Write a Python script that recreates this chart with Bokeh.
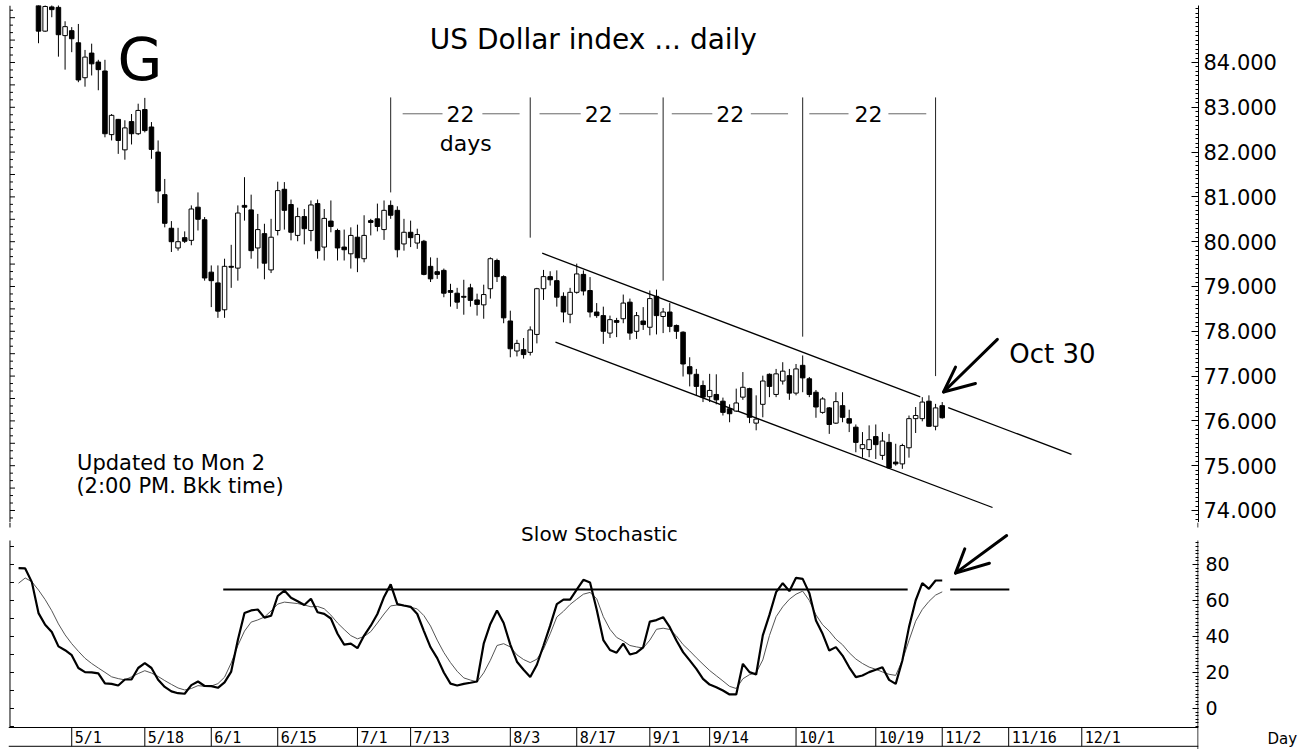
from bokeh.plotting import figure
from bokeh.models import Range1d, LinearAxis, FixedTicker, Label, ColumnDataSource, Span
from bokeh.layouts import column, row
from bokeh.core.properties import value
from bokeh.embed import file_html
from bokeh.resources import INLINE

FONT = "DejaVu Sans"
MONO = "DejaVu Sans Mono"

# ---------------- data (US Dollar index, daily, candle index 0 = 4/24) ----------------
opens = [85.30, 84.70, 85.24, 85.23, 84.60, 84.71, 84.44, 83.66, 84.21, 84.01,
         83.81, 82.39, 82.73, 82.05, 82.68, 82.41, 82.95, 82.56, 82.00, 81.05,
         80.30, 79.86, 80.09, 80.03, 80.77, 80.49, 79.32, 79.08, 78.48, 79.45,
         79.41, 80.81, 80.71, 79.86, 80.18, 79.37, 80.25, 81.17, 80.83, 80.14,
         80.56, 80.25, 80.85, 79.88, 80.46, 80.25, 79.88, 79.73, 80.10, 79.62,
         80.47, 80.51, 80.27, 80.81, 80.70, 79.95, 80.21, 79.97, 80.01, 79.45,
         79.33, 79.36, 78.91, 78.85, 78.78, 78.97, 78.70, 78.59, 78.95, 79.58,
         79.22, 78.23, 77.56, 77.59, 77.53, 77.93, 78.95, 79.22, 79.13, 78.78,
         78.38, 78.87, 79.27, 78.91, 78.43, 78.35, 77.96, 78.24, 78.28, 78.65,
         78.00, 78.23, 78.09, 78.78, 78.33, 78.43, 78.13, 77.98, 77.21, 77.04,
         76.79, 76.54, 76.59, 76.44, 76.27, 76.22, 76.53, 76.72, 75.95, 76.37,
         77.04, 76.59, 76.89, 77.01, 76.62, 77.24, 76.94, 76.64, 76.19, 76.29,
         75.95, 76.34, 76.05, 75.86, 75.38, 75.36, 75.65, 75.23, 75.52, 75.08,
         75.04, 75.40, 76.05, 76.05, 76.44, 75.88, 76.34]
highs = [85.45, 85.45, 85.30, 85.30, 84.92, 84.79, 84.86, 84.28, 84.42, 84.06,
         84.06, 82.85, 82.74, 82.71, 82.85, 83.08, 83.21, 82.67, 82.26, 81.40,
         80.46, 80.31, 80.23, 80.81, 81.10, 80.55, 79.47, 79.47, 79.62, 79.93,
         80.81, 81.44, 81.05, 80.62, 80.40, 80.51, 81.34, 81.33, 80.94, 80.76,
         80.73, 80.92, 80.94, 80.73, 80.92, 80.29, 80.27, 80.32, 80.38, 80.59,
         80.51, 80.85, 80.92, 80.92, 80.79, 80.51, 80.47, 80.29, 80.04, 79.65,
         79.64, 79.40, 79.06, 78.97, 79.15, 79.06, 78.84, 79.04, 79.65, 79.62,
         79.25, 78.46, 77.81, 77.85, 78.11, 78.97, 79.37, 79.34, 79.36, 78.87,
         78.97, 79.51, 79.36, 79.21, 78.63, 78.55, 78.35, 78.30, 78.82, 78.73,
         78.43, 78.54, 78.91, 78.93, 78.52, 78.63, 78.15, 78.00, 77.42, 77.16,
         76.90, 77.05, 77.04, 76.52, 76.37, 76.72, 77.09, 76.74, 76.57, 77.01,
         77.06, 77.16, 77.31, 77.16, 77.27, 77.46, 76.98, 76.69, 76.53, 76.31,
         76.64, 76.64, 76.25, 75.92, 75.75, 75.90, 75.92, 75.75, 75.71, 75.49,
         75.49, 76.12, 76.31, 76.53, 76.57, 76.38, 76.42]
lows = [84.43, 84.68, 85.01, 84.13, 83.84, 84.23, 83.56, 83.46, 83.71, 83.38,
        82.33, 82.26, 81.96, 81.83, 82.17, 82.38, 82.44, 81.85, 80.86, 80.32,
        79.77, 79.80, 79.97, 79.92, 80.25, 79.13, 78.54, 78.30, 78.30, 78.97,
        79.13, 80.47, 79.62, 79.40, 79.16, 79.30, 80.14, 80.27, 80.03, 80.01,
        79.94, 80.01, 79.62, 79.58, 80.21, 79.58, 79.58, 79.40, 79.32, 79.54,
        80.14, 80.23, 80.04, 80.51, 79.65, 79.80, 79.88, 79.84, 79.25, 79.10,
        79.17, 78.76, 78.55, 78.50, 78.37, 78.55, 78.35, 78.28, 78.73, 79.10,
        78.18, 77.42, 77.44, 77.39, 77.46, 77.73, 78.70, 79.02, 78.55, 78.20,
        78.18, 78.84, 78.80, 78.31, 78.30, 77.72, 77.85, 77.87, 78.18, 77.81,
        77.83, 78.03, 77.91, 77.93, 77.96, 77.98, 77.83, 76.99, 76.77, 76.57,
        76.42, 76.42, 76.37, 76.12, 75.97, 76.20, 76.47, 75.95, 75.79, 76.08,
        76.53, 76.53, 76.81, 76.47, 76.57, 76.64, 76.53, 76.07, 76.16, 75.71,
        75.93, 75.97, 75.75, 75.30, 75.18, 75.19, 75.15, 75.13, 74.93, 75.00,
        74.93, 75.18, 75.73, 75.99, 75.87, 75.79, 76.05]
closes = [84.70, 85.25, 85.18, 84.62, 84.80, 84.53, 83.61, 84.12, 83.97, 83.84,
          82.41, 82.82, 82.26, 82.54, 82.41, 82.93, 82.48, 82.06, 81.13, 80.41,
          80.00, 80.00, 80.01, 80.73, 80.50, 79.19, 79.13, 78.45, 79.45, 79.43,
          80.64, 80.77, 79.80, 80.27, 79.52, 80.10, 81.14, 80.70, 80.21, 80.56,
          80.29, 80.82, 79.80, 80.52, 80.34, 79.86, 79.82, 80.14, 79.64, 80.14,
          80.43, 80.34, 80.70, 80.59, 79.82, 80.21, 80.09, 80.16, 79.27, 79.17,
          79.27, 78.85, 78.87, 78.65, 78.76, 78.69, 78.60, 78.82, 79.62, 79.22,
          78.30, 77.61, 77.73, 77.48, 78.03, 78.95, 79.22, 79.15, 78.76, 78.43,
          78.87, 79.28, 78.90, 78.43, 78.35, 78.00, 78.26, 78.20, 78.63, 77.96,
          78.35, 78.15, 78.73, 78.35, 78.43, 78.11, 78.00, 77.27, 77.05, 76.77,
          76.53, 76.68, 76.47, 76.19, 76.16, 76.40, 76.75, 76.08, 76.04, 76.89,
          76.77, 77.05, 77.11, 76.62, 77.16, 76.96, 76.59, 76.31, 76.49, 75.92,
          76.43, 76.08, 75.95, 75.52, 75.47, 75.58, 75.47, 75.55, 74.95, 75.04,
          75.45, 76.05, 76.12, 76.42, 75.88, 76.29, 76.07]

# slow stochastic, first value at candle index -3
stoch_first = -3
stoch_k = [78.0, 77.8, 70.2, 53.0, 46.5, 42.5, 34.5, 32.4, 29.6, 22.5,
           20.2, 20.1, 19.5, 14.0, 13.7, 12.8, 16.1, 16.1, 22.5, 25.2,
           22.5, 16.0, 12.0, 9.5, 8.5, 8.2, 13.0, 15.0, 12.5, 12.4,
           11.5, 14.5, 20.5, 38.0, 53.0, 54.5, 55.0, 50.5, 51.5, 62.5,
           65.5, 61.5, 59.6, 57.5, 61.0, 53.5, 52.6, 50.0, 41.5, 35.5,
           36.0, 33.5, 40.5, 46.0, 52.5, 62.0, 69.0, 58.0, 57.2, 56.5,
           52.5, 43.0, 34.0, 28.0, 20.0, 13.8, 12.8, 13.7, 14.3, 15.0,
           36.0, 47.0, 54.5, 47.5, 35.5, 26.0, 21.5, 17.5, 24.3, 35.0,
           46.0, 58.0, 60.5, 60.5, 66.0, 71.5, 70.0, 55.0, 38.0, 32.5,
           31.0, 36.0, 30.0, 31.0, 34.0, 48.3, 49.1, 50.7, 45.2, 37.8,
           31.3, 26.7, 22.0, 16.5, 13.3, 11.8, 10.0, 7.8, 7.8, 24.8,
           20.2, 18.9, 40.6, 52.0, 64.6, 69.6, 65.2, 72.6, 72.0, 64.1,
           48.9, 41.5, 32.2, 34.1, 29.4, 22.9, 17.4, 18.3, 20.2, 21.5,
           22.9, 15.9, 13.7, 26.7, 45.2, 60.0, 69.6, 66.5, 71.1, 71.1]
stoch_d = [69.6, 72.5, 70.4, 65.8, 60.5, 54.3, 47.0, 40.9, 36.0, 31.8,
           27.9, 25.0, 22.5, 20.1, 17.6, 16.6, 15.9, 17.6, 19.4, 21.0,
           19.7, 17.8, 15.5, 13.4, 11.4, 10.3, 11.1, 12.7, 12.3, 12.5,
           13.8, 17.4, 25.3, 35.0, 43.0, 48.0, 49.2, 50.8, 54.2, 58.0,
           59.1, 58.7, 58.3, 57.5, 56.5, 56.7, 55.4, 51.9, 47.5, 43.9,
           40.5, 38.7, 40.0, 42.7, 47.5, 52.5, 57.0, 57.5, 57.0, 56.3,
           55.3, 51.6, 45.8, 38.0, 31.1, 25.5, 20.7, 17.0, 15.8, 14.8,
           19.8, 26.8, 35.0, 36.0, 34.2, 29.8, 27.2, 25.5, 27.4, 33.0,
           41.5, 50.8, 54.0, 57.8, 60.7, 63.5, 64.5, 61.0, 51.0, 44.0,
           39.5, 37.5, 35.0, 34.2, 33.6, 38.0, 44.0, 44.6, 43.9, 40.3,
           35.5, 32.0, 28.2, 24.6, 21.1, 18.2, 15.3, 12.3, 11.1, 16.5,
           18.8, 19.9, 27.0, 40.5, 51.0, 56.5, 60.7, 63.5, 65.2, 60.0,
           52.0, 46.5, 43.0, 38.5, 35.4, 31.0, 27.5, 25.0, 23.0, 21.8,
           20.3, 19.0, 18.4, 26.7, 37.8, 48.5, 55.0, 59.5, 63.0, 64.8]

date_labels = ["5/1", "5/18", "6/1", "6/15", "7/1", "7/13", "8/3", "8/17",
               "9/1", "9/14", "10/1", "10/19", "11/2", "11/16", "12/1"]
date_index = [5, 16, 26, 36, 48, 56, 71, 81, 92, 101, 114, 126, 136, 146, 157]

price_ticks = [74, 75, 76, 77, 78, 79, 80, 81, 82, 83, 84]
price_tick_labels = ["74.000", "75.000", "76.000", "77.000", "78.000", "79.000",
                     "80.000", "81.000", "82.000", "83.000", "84.000"]
stoch_ticks = [0, 20, 40, 60, 80]
stoch_tick_labels = ["0", "20", "40", "60", "80"]

# annotations drawn on the chart (day index, price)
cycle_index = [53, 74, 94, 115, 135]
cycle_top = 83.22
cycle_bottom = [81.10, 80.09, 79.13, 77.88, 77.00]
count_label_index = [63.5, 84.3, 104.1, 124.9]
count_label_text = ["22", "22", "22", "22"]
count_dash_x0 = [54.8, 66.8, 75.4, 87.4, 95.3, 107.2, 116.0, 127.9]
count_dash_x1 = [60.8, 72.4, 81.6, 93.2, 101.4, 112.8, 121.9, 133.6]
count_level = 82.855
channel_x0 = [75.80, 136.9, 77.80]
channel_y0 = [79.743, 76.298, 77.757]
channel_x1 = [132.7, 155.45, 143.57]
channel_y1 = [76.535, 75.252, 74.067]
stoch_level = 66.1
stoch_level_x0 = [27.8, 137.2]
stoch_level_x1 = [130.8, 146.1]

# ---------------- ranges / layout ----------------
PX_PER_DAY = 6.645
FRAME_W = 1190
X0 = -4.515
X1 = X0 + FRAME_W / PX_PER_DAY
P0, P1 = 73.732, 85.272          # main frame: page y 5 .. 522
S0, S1 = -22.78, 103.33          # lower frame: page y 522 .. 749
S_MAIN_END = 100.56              # page y 527: end of the upper panel's rules
S_AXIS_TOP = 93.33               # page y 540: start of the lower panel's rules
XL = -4.29                       # left edge rule
XR = X1 - 0.5 / PX_PER_DAY       # right rule inside the lower frame
BAND_TOP, BAND_BOT, BAND_TXT = -10.56, -21.0, -16.2


def base(fig):
    fig.grid.grid_line_color = None
    fig.outline_line_color = None
    fig.background_fill_color = "white"
    fig.border_fill_color = "white"
    return fig


common = dict(output_backend="svg", toolbar_location=None, tools="",
              x_axis_location=None, y_axis_location=None, min_border_left=8)

# ---------------- main price panel ----------------
p1 = base(figure(width=1316, height=522, x_range=Range1d(X0, X1), y_range=Range1d(P0, P1),
                 min_border_top=5, min_border_bottom=0, min_border_right=1316 - 8 - FRAME_W,
                 **common))

ax1 = LinearAxis(ticker=FixedTicker(ticks=price_ticks,
                                    minor_ticks=[round(73.8 + 0.1 * k, 2) for k in range(116)]),
                 major_label_overrides=dict(zip(price_ticks, price_tick_labels)))
ax1.axis_line_color = "black"
ax1.major_tick_in, ax1.major_tick_out = 7, 0
ax1.minor_tick_in, ax1.minor_tick_out = 3, 0
ax1.major_tick_line_color = "black"
ax1.minor_tick_line_color = "black"
ax1.major_label_standoff = 5
ax1.major_label_text_font = FONT
ax1.major_label_text_font_size = "21px"
ax1.major_label_text_color = "black"
p1.add_layout(ax1, "right")

# left edge rule with ticks
long_t = [74 + 0.5 * k for k in range(23)]
short_t = [73.5 + k / 6 for k in range(71) if k % 3 != 0]
p1.segment(x0=[XL], y0=[P0], x1=[XL], y1=[P1], line_color="black", line_width=1)
p1.segment(x0=[XL] * len(long_t), y0=long_t, x1=[XL + 0.75] * len(long_t), y1=long_t,
           line_color="black", line_width=1)
p1.segment(x0=[XL] * len(short_t), y0=short_t, x1=[XL + 0.45] * len(short_t), y1=short_t,
           line_color="black", line_width=1)

# channel lines
p1.segment(x0=channel_x0, y0=channel_y0, x1=channel_x1, y1=channel_y1,
           line_color="black", line_width=1.3)

# cycle markers
p1.segment(x0=cycle_index, y0=[cycle_top] * len(cycle_index), x1=cycle_index, y1=cycle_bottom,
           line_color="#222222", line_width=1)
p1.segment(x0=count_dash_x0, y0=[count_level] * 8, x1=count_dash_x1, y1=[count_level] * 8,
           line_color="#666666", line_width=1)
p1.text(x=count_label_index, y=[count_level] * 4, text=count_label_text,
        text_font=value(FONT), text_font_size="22px", text_align="center",
        text_baseline="middle", text_color="black")
p1.text(x=[64.3], y=[82.2], text=["days"], text_font=value(FONT), text_font_size="22px",
        text_align="center", text_baseline="middle", text_color="black")

# candles
n = len(opens)
idx = list(range(n))
src = ColumnDataSource(dict(
    x=idx, h=highs, l=lows,
    top=[max(o, c) for o, c in zip(opens, closes)],
    bottom=[min(o, c) for o, c in zip(opens, closes)],
    fill=["white" if c >= o else "black" for o, c in zip(opens, closes)]))
p1.segment(x0="x", y0="l", x1="x", y1="h", source=src, line_color="black", line_width=1)
p1.vbar(x="x", width=0.68, top="top", bottom="bottom", source=src,
        fill_color="fill", line_color="black", line_width=1)

# arrow to Oct 30
p1.multi_line(xs=[[144.3, 136.2], [138.0, 136.2, 141.0]],
              ys=[[77.82, 76.645], [77.20, 76.645, 76.835]],
              line_color="black", line_width=3, line_cap="round", line_join="round")

p1.add_layout(Label(x=11.9, y=84.045, text="G", text_font=FONT, text_font_size="58px",
                    text_color="black", text_baseline="alphabetic"))
p1.add_layout(Label(x=83.5, y=84.507, text="US Dollar index ... daily", text_font=FONT,
                    text_font_size="28px", text_color="black", text_align="center",
                    text_baseline="alphabetic"))
p1.add_layout(Label(x=146.1, y=77.504, text="Oct 30", text_font=FONT, text_font_size="26px",
                    text_color="black", text_baseline="alphabetic"))
p1.add_layout(Label(x=5.8, y=75.049, text="Updated to Mon 2", text_font=FONT,
                    text_font_size="21px", text_color="black", text_baseline="alphabetic"))
p1.add_layout(Label(x=5.7, y=74.545, text="(2:00 PM. Bkk time)", text_font=FONT,
                    text_font_size="21px", text_color="black", text_baseline="alphabetic"))

# ---------------- stochastic panel ----------------
p2 = base(figure(width=1260, height=227, x_range=p1.x_range, y_range=Range1d(S0, S1),
                 min_border_top=0, min_border_bottom=0, min_border_right=1260 - 8 - FRAME_W,
                 **common))

ax2 = LinearAxis(ticker=FixedTicker(ticks=stoch_ticks, minor_ticks=list(range(-10, 94, 2))),
                 major_label_overrides=dict(zip(stoch_ticks, stoch_tick_labels)))
ax2.axis_line_color = None
ax2.major_tick_in, ax2.major_tick_out = 6, 0
ax2.minor_tick_in, ax2.minor_tick_out = 3, 0
ax2.major_tick_line_color = "black"
ax2.minor_tick_line_color = "black"
ax2.major_label_standoff = 7
ax2.major_label_text_font = FONT
ax2.major_label_text_font_size = "19px"
ax2.major_label_text_color = "black"
p2.add_layout(ax2, "right")

# rules: tail of the upper panel's edges, then the lower panel's own edges
p2.segment(x0=[XR, XL], y0=[S1, S1], x1=[XR, XL], y1=[S_MAIN_END, S_MAIN_END],
           line_color="black", line_width=1)
p2.segment(x0=[XR], y0=[S_AXIS_TOP], x1=[XR], y1=[S0], line_color="black", line_width=1)

left_t2 = list(range(-10, 91, 10))
p2.segment(x0=[XL], y0=[BAND_TOP], x1=[XL], y1=[S_AXIS_TOP], line_color="black", line_width=1)
p2.segment(x0=[XL] * len(left_t2), y0=left_t2, x1=[XL + 0.6] * len(left_t2), y1=left_t2,
           line_color="black", line_width=1)

# date band
p2.add_layout(Span(location=BAND_TOP, dimension="width", line_color="black", line_width=1))
p2.add_layout(Span(location=BAND_BOT, dimension="width", line_color="black", line_width=1))
p2.segment(x0=date_index, y0=[BAND_TOP] * len(date_index), x1=date_index,
           y1=[BAND_BOT] * len(date_index), line_color="black", line_width=1)
p2.text(x=[d + 0.45 for d in date_index], y=[BAND_TXT] * len(date_index), text=date_labels,
        text_font=value(MONO), text_font_size="15px", text_align="left",
        text_baseline="middle", text_color="black")

p2.add_layout(Label(x=84.9, y=97.2, text="Slow  Stochastic", text_font=FONT,
                    text_font_size="20px", text_color="black", text_align="center",
                    text_baseline="middle"))

# level line
p2.segment(x0=stoch_level_x0, y0=[stoch_level] * 2, x1=stoch_level_x1, y1=[stoch_level] * 2,
           line_color="black", line_width=2)

sx = [stoch_first + k for k in range(len(stoch_k))]
p2.line(x=sx, y=stoch_d, line_color="#555555", line_width=1)
p2.line(x=sx, y=stoch_k, line_color="black", line_width=2.2)

p2.multi_line(xs=[[145.7, 138.0], [139.4, 138.0, 143.1]],
              ys=[[96.1, 75.2], [88.7, 75.2, 80.7]],
              line_color="black", line_width=3, line_cap="round", line_join="round")

# small corner panel holding the "Day" caption (pixel units)
p3 = base(figure(width=56, height=227, x_range=Range1d(0, 56), y_range=Range1d(0, 227),
                 output_backend="svg", toolbar_location=None, tools="",
                 x_axis_location=None, y_axis_location=None,
                 min_border_left=0, min_border_right=0, min_border_top=0, min_border_bottom=0))
p3.add_layout(Label(x=7, y=11, text="Day", text_font=FONT, text_font_size="15px",
                    text_color="black", text_baseline="middle"))

layout = column(p1, row(p2, p3, spacing=0), spacing=0)
open("out.html", "w").write(file_html(layout, INLINE))
